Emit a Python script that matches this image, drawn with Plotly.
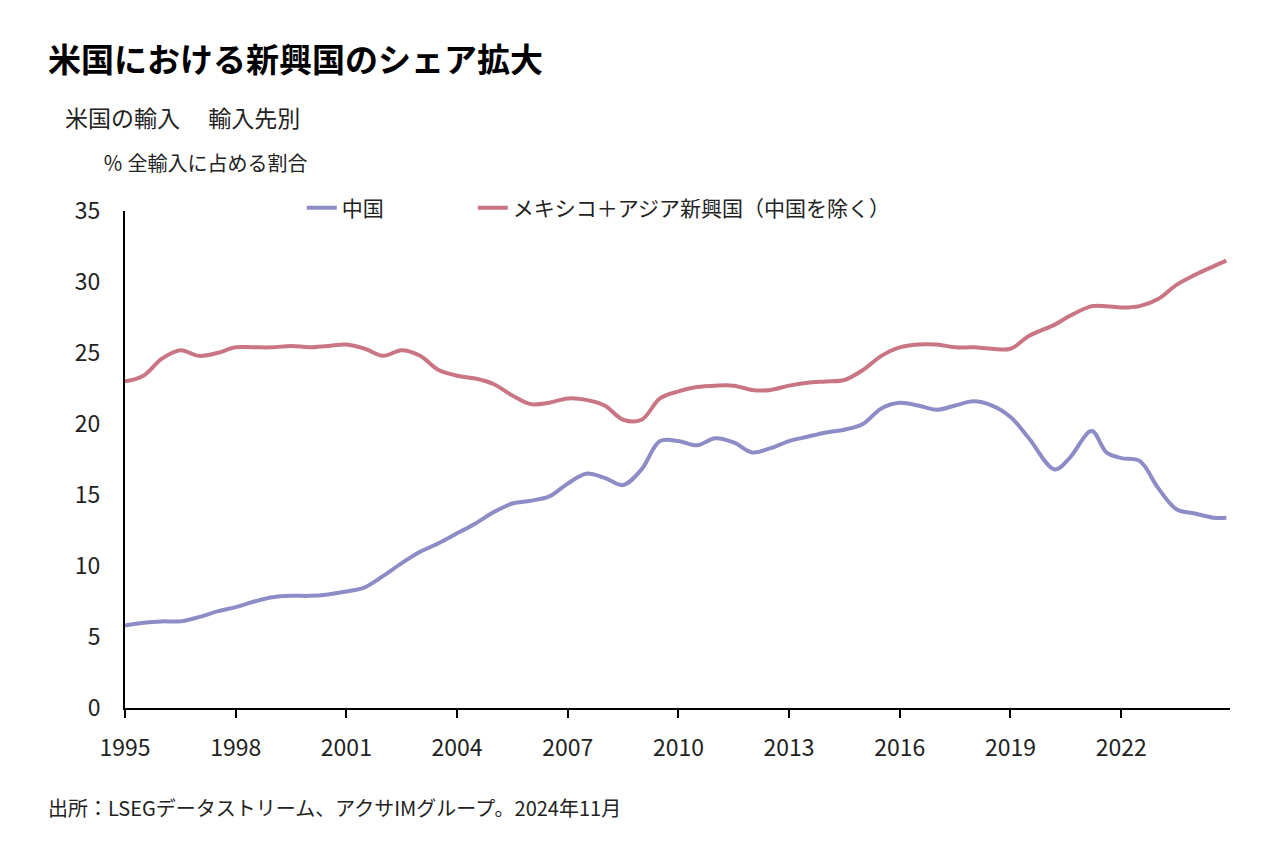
import plotly.graph_objects as go

years = [1995.0, 1995.5, 1996.0, 1996.5, 1997.0, 1997.5, 1998.0, 1998.5, 1999.0, 1999.5,
         2000.0, 2000.5, 2001.0, 2001.5, 2002.0, 2002.5, 2003.0, 2003.5, 2004.0, 2004.5,
         2005.0, 2005.5, 2006.0, 2006.5, 2007.0, 2007.5, 2008.0, 2008.5, 2009.0, 2009.5,
         2010.0, 2010.5, 2011.0, 2011.5, 2012.0, 2012.5, 2013.0, 2013.5, 2014.0, 2014.5,
         2015.0, 2015.5, 2016.0, 2016.5, 2017.0, 2017.5, 2018.0, 2018.5, 2019.0, 2019.5,
         2020.2, 2020.6, 2021.2, 2021.6, 2022.0, 2022.5, 2023.0, 2023.5, 2024.0, 2024.5, 2024.85]

china = [5.8, 6.0, 6.1, 6.1, 6.4, 6.8, 7.1, 7.5, 7.8, 7.9,
         7.9, 8.0, 8.2, 8.5, 9.3, 10.2, 11.0, 11.6, 12.3, 13.0,
         13.8, 14.4, 14.6, 14.9, 15.8, 16.5, 16.2, 15.7, 16.8, 18.8,
         18.8, 18.5, 19.0, 18.7, 18.0, 18.3, 18.8, 19.1, 19.4, 19.6,
         20.0, 21.1, 21.5, 21.3, 21.0, 21.3, 21.6, 21.3, 20.5, 19.0,
         16.8, 17.6, 19.5, 18.0, 17.6, 17.4, 15.5, 14.0, 13.7, 13.4, 13.4]

mexico_asia = [23.0, 23.4, 24.6, 25.2, 24.8, 25.0, 25.4, 25.4, 25.4, 25.5,
               25.4, 25.5, 25.6, 25.3, 24.8, 25.2, 24.8, 23.8, 23.4, 23.2,
               22.8, 22.0, 21.4, 21.5, 21.8, 21.7, 21.3, 20.3, 20.3, 21.8,
               22.3, 22.6, 22.7, 22.7, 22.4, 22.4, 22.7, 22.9, 23.0, 23.1,
               23.8, 24.8, 25.4, 25.6, 25.6, 25.4, 25.4, 25.3, 25.3, 26.2,
               27.0, 27.6, 28.3, 28.3, 28.2, 28.3, 28.8, 29.8, 30.5, 31.1, 31.5]

tick_years = [1995, 1998, 2001, 2004, 2007, 2010, 2013, 2016, 2019, 2022]

font = "Noto Sans CJK JP"

fig = go.Figure()
fig.add_trace(go.Scatter(x=years, y=china, mode="lines", name="中国　　　　",
                         line=dict(color="#8d8cc6", width=4, shape="spline")))
fig.add_trace(go.Scatter(x=years, y=mexico_asia, mode="lines",
                         name="メキシコ＋アジア新興国（中国を除く）",
                         line=dict(color="#c97584", width=4, shape="spline")))

fig.update_layout(
    width=1274, height=841,
    paper_bgcolor="white", plot_bgcolor="white",
    font=dict(family=font, size=22, color="#222"),
    margin=dict(l=117, r=52, t=203, b=141),
    legend=dict(orientation="h", x=0.16, y=1.006, xanchor="left", yanchor="middle",
                font=dict(size=21), bgcolor="rgba(0,0,0,0)"),
    xaxis=dict(range=[1995, 2024.95], tickvals=tick_years, showgrid=False,
               showline=True, linecolor="black", linewidth=2,
               ticks="outside", ticklen=8, tickcolor="black", tickwidth=2,
               ticklabelstandoff=10, tickfont=dict(size=23)),
    yaxis=dict(range=[0, 35], dtick=5, showgrid=False, showline=True,
               linecolor="black", linewidth=2, ticks="", ticklabelstandoff=18,
               tickfont=dict(size=23)),
)

fig.add_annotation(text="<b>米国における新興国のシェア拡大</b>", xref="paper", yref="paper",
                   x=-0.0715, y=1.308, xanchor="left", yanchor="middle", showarrow=False,
                   font=dict(size=33, color="black"))
fig.add_annotation(text="米国の輸入　 輸入先別", xref="paper", yref="paper",
                   x=-0.056, y=1.19, xanchor="left", yanchor="middle", showarrow=False,
                   font=dict(size=23))
fig.add_annotation(text="％ 全輸入に占める割合", xref="paper", yref="paper",
                   x=-0.022, y=1.097, xanchor="left", yanchor="middle", showarrow=False,
                   font=dict(size=20))
fig.add_annotation(text="出所：LSEGデータストリーム、アクサIMグループ。2024年11月", xref="paper", yref="paper",
                   x=-0.0715, y=-0.201, xanchor="left", yanchor="middle", showarrow=False,
                   font=dict(size=20))

fig.write_html("out.html")
